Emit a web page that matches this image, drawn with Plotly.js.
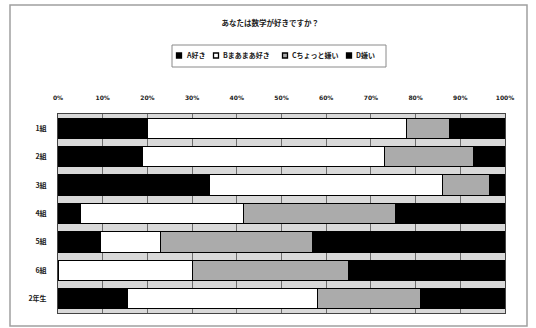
<!DOCTYPE html>
<html>
<head>
<meta charset="utf-8">
<script src="https://cdn.plot.ly/plotly-3.0.1.min.js"></script>
<style>
  html, body { margin: 0; padding: 0; background: #fff; }
  #chart { width: 536px; height: 328px; }
</style>
</head>
<body>
<div id="chart"></div>
<script>
// Class survey: "Do you like math?" — share of answers per class (%)
const classes = ["1組", "2組", "3組", "4組", "5組", "6組", "2年生"];
const seriesNames = ["A好き", "Bまあまあ好き", "Cちょっと嫌い", "D嫌い"];
const likeA = [20, 19, 34, 5, 9.5, 0, 15.5];
const likeB = [58, 54, 52, 36.5, 13.5, 30, 42.5];
const dislikeC = [9.5, 20, 10.5, 34, 34, 35, 23];
const dislikeD = [12.5, 7, 3.5, 24.5, 43, 35, 19];
const tickValues = [0, 10, 20, 30, 40, 50, 60, 70, 80, 90, 100];
const tickLabels = ["0%", "10%", "20%", "30%", "40%", "50%", "60%", "70%", "80%", "90%", "100%"];

const fills = ["#000000", "#ffffff", "#ababab", "#000000"];
const values = [likeA, likeB, dislikeC, dislikeD];

const jpFont = '"Noto Sans CJK JP", "Liberation Sans", sans-serif';

const traces = values.map((v, i) => ({
  type: "bar",
  orientation: "h",
  name: seriesNames[i],
  y: classes,
  x: v,
  marker: { color: fills[i], line: { color: "#000", width: 1 } },
  hoverinfo: "skip"
}));

// plot area geometry in pixels
const mL = 58, mR = 31, mT = 114, mB = 15, W = 536, H = 328;
const pw = W - mL - mR, ph = H - mT - mB;
const px = v => (v - mL) / pw;
const py = v => (H - mB - v) / ph;

const shapes = [];
const annotations = [];

// outer chart frame
shapes.push({
  type: "rect", xref: "paper", yref: "paper",
  x0: px(10), x1: px(527), y0: py(326), y1: py(5),
  line: { color: "#a0a0a0", width: 1.5 },
  fillcolor: "rgba(0,0,0,0)", layer: "below"
});

// legend: boxed row of swatches and labels
const legendBox = { left: 172, right: 386, top: 45, bottom: 67 };
const legendMid = 55.5;
const swatchX = [179, 216, 285, 349];
shapes.push({
  type: "rect", xref: "paper", yref: "paper",
  x0: px(legendBox.left), x1: px(legendBox.right),
  y0: py(legendBox.bottom), y1: py(legendBox.top),
  line: { color: "#8a8a8a", width: 1 },
  fillcolor: "#ffffff", layer: "above"
});
seriesNames.forEach((name, i) => {
  const c = swatchX[i];
  shapes.push({
    type: "rect", xref: "paper", yref: "paper",
    x0: px(c - 2.5), x1: px(c + 2.5),
    y0: py(legendMid + 2.5), y1: py(legendMid - 2.5),
    line: { color: "#000", width: 1.3 },
    fillcolor: fills[i], layer: "above"
  });
  annotations.push({
    xref: "paper", yref: "paper",
    x: px(c + 5), y: py(legendMid),
    xanchor: "left", yanchor: "middle",
    text: name, showarrow: false,
    font: { family: jpFont, size: 7, color: "#222", weight: "bold" }
  });
});

const layout = {
  width: W,
  height: H,
  margin: { l: mL, r: mR, t: mT, b: mB, pad: 0 },
  paper_bgcolor: "#ffffff",
  plot_bgcolor: "#d9d9d9",
  barmode: "stack",
  bargap: 0.29,
  showlegend: false,
  title: {
    text: "あなたは数学が好きですか？",
    font: { family: jpFont, size: 7.5, color: "#222", weight: "bold" },
    x: 0.504, xanchor: "center",
    y: 1 - 23 / H, yanchor: "middle"
  },
  xaxis: {
    side: "top",
    range: [0, 100],
    tickvals: tickValues,
    ticktext: tickLabels,
    ticks: "",
    ticklabelstandoff: 11,
    tickfont: { family: '"DejaVu Sans", sans-serif', size: 6, color: "#222", weight: "bold" },
    showgrid: true,
    gridcolor: "#6e6e6e",
    gridwidth: 1,
    zeroline: false,
    showline: true,
    linecolor: "#444",
    linewidth: 1,
    mirror: true,
    fixedrange: true
  },
  yaxis: {
    type: "category",
    categoryorder: "array",
    categoryarray: classes,
    autorange: "reversed",
    ticks: "",
    ticklabelstandoff: 9,
    tickfont: { family: jpFont, size: 7, color: "#222", weight: "bold" },
    showgrid: false,
    showline: true,
    linecolor: "#444",
    linewidth: 1,
    mirror: true,
    fixedrange: true
  },
  shapes: shapes,
  annotations: annotations
};

Plotly.newPlot("chart", traces, layout, { staticPlot: true, displayModeBar: false });
</script>
</body>
</html>
